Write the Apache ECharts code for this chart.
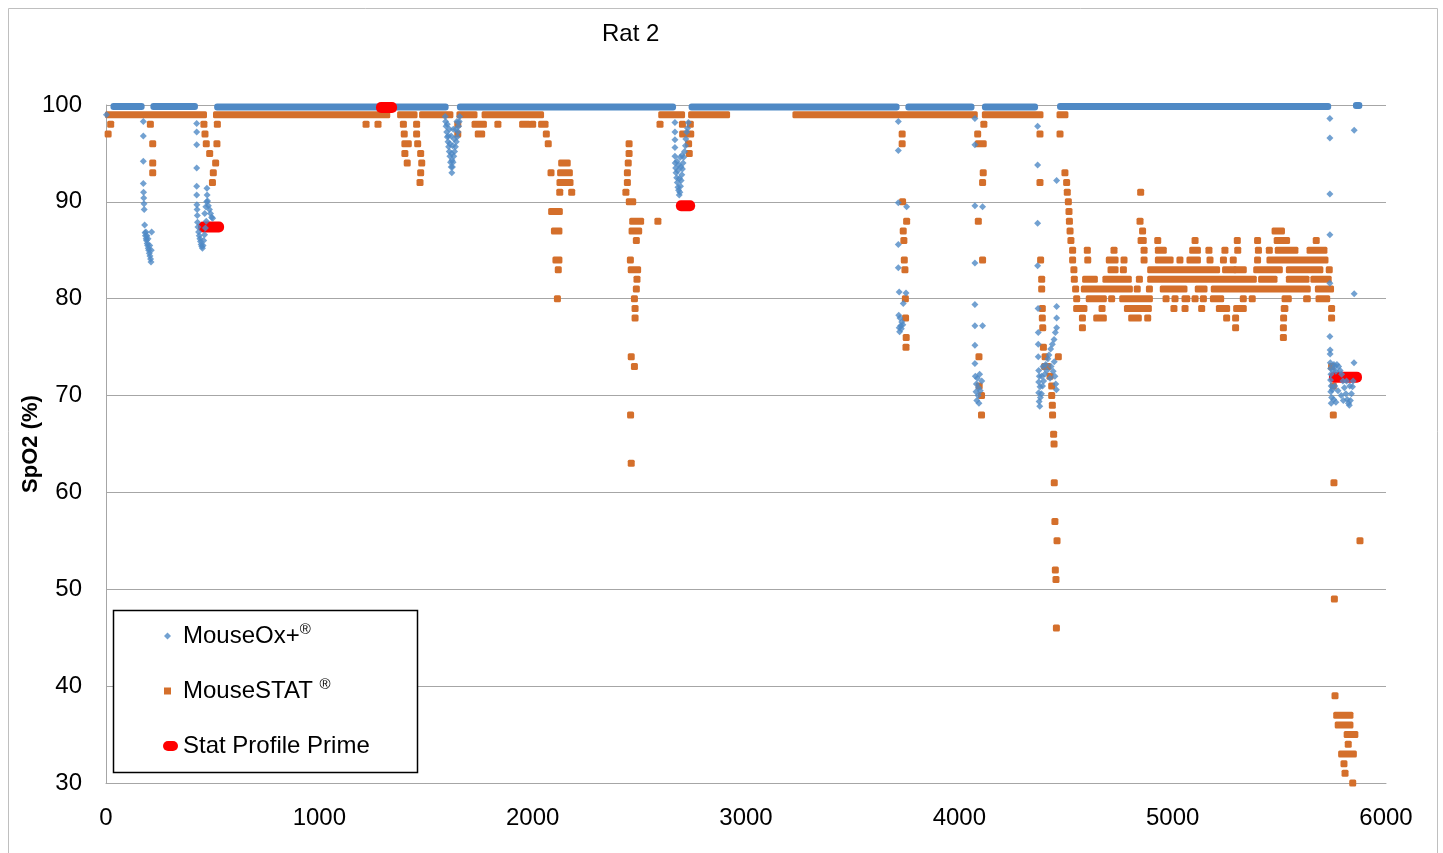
<!DOCTYPE html>
<html>
<head>
<meta charset="utf-8">
<script src="https://cdn.jsdelivr.net/npm/echarts@6/dist/echarts.min.js"></script>
<style>html,body{margin:0;padding:0;background:#fff}#c{width:1443px;height:853px}</style>
</head>
<body>
<div id="c"></div>
<script>
// ---------------- DATA ----------------
const chartTitle = 'Rat 2';
const yAxisTitle = 'SpO2 (%)';
const xRange = [0, 6000, 1000];   // min, max, step
const yRange = [30, 100, 10];

// MouseOx+ : continuous stretches near the top [xStart, xEnd, SpO2]
const blueRuns = [
  [35,167,99.85],[222,417,99.85],[521,1592,99.8],[1659,2658,99.8],[2745,3706,99.8],
  [3761,4057,99.8],[4120,4355,99.8],[4472,5729,99.85],[5859,5875,99.95]
];
// MouseOx+ : individual readings [x, SpO2]
const bluePoints = [
  [2,99.0],
  // dip ~200
  [175,98.3],[175,96.8],[175,94.2],[175,91.9],[176,91.0],[177,90.4],[178,89.8],[179,89.2],[181,87.6],[183,86.8],
  [185,86.5],[187,86.9],[188,86.2],[190,86.0],[192,86.5],[193,85.7],[195,85.5],[197,86.2],[198,85.2],[200,85.0],
  [203,84.7],[205,85.5],[206,84.4],[209,84.1],[211,83.8],[214,86.9],[212,85.0],
  // dip ~450
  [425,98.1],[425,97.2],[425,95.9],[425,93.5],[425,91.6],[425,90.7],[426,89.7],[427,89.2],[428,88.6],[429,87.9],
  [431,87.4],[434,86.9],[437,86.5],[440,86.2],[443,85.9],[446,85.6],[449,85.4],[452,85.2],[455,85.5],[458,86.0],
  [462,86.6],[466,87.3],[470,88.0],[473,91.4],[474,90.7],[476,90.1],[480,89.6],[485,89.2],[490,88.8],[495,88.4],
  [500,88.3],[468,89.5],[463,88.8],[472,90.0],
  // dip ~1620
  [1590,98.8],[1592,98.3],[1594,97.8],[1597,97.2],[1600,96.7],[1603,96.2],[1606,95.7],[1609,95.2],[1612,94.7],
  [1615,94.1],[1618,93.6],[1621,93.0],[1624,93.6],[1627,94.1],[1630,94.7],[1634,95.2],[1638,95.7],[1642,96.2],
  [1646,96.7],[1650,97.2],[1653,97.8],[1656,98.3],[1658,98.8],[1605,96.8],[1612,96.0],[1620,95.0],[1625,95.8],
  [1632,96.5],[1640,97.5],[1618,96.8],[1628,97.5],[1600,98.0],[1645,98.3],[1622,94.3],[1610,97.5],
  // dip ~2690
  [2667,98.2],[2667,97.2],[2667,96.4],[2667,95.6],[2667,94.7],[2668,94.0],[2670,93.5],[2672,93.0],[2675,92.5],
  [2678,92.0],[2681,91.5],[2684,91.2],[2687,90.7],[2690,91.0],[2693,91.6],[2696,92.2],[2699,92.8],[2702,93.4],
  [2705,94.0],[2708,94.6],[2712,95.2],[2716,95.8],[2718,96.5],[2722,97.2],[2726,97.6],[2730,98.2],[2680,93.2],
  [2688,92.4],[2695,93.6],[2700,94.8],[2676,94.2],[2685,93.8],[2692,94.6],
  // dip ~3730
  [3714,98.3],[3714,95.3],[3714,89.9],[3753,89.5],[3714,85.6],[3714,83.2],[3718,80.7],[3750,80.6],[3737,79.5],
  [3716,78.3],[3722,78.0],[3730,77.6],[3725,77.2],[3718,77.0],[3735,77.3],[3720,76.6],[3728,76.9],
  // dip ~4090
  [4073,98.6],[4073,95.9],[4073,89.6],[4109,89.5],[4073,83.7],[4073,79.4],[4073,77.2],[4109,77.2],[4073,75.2],
  [4073,73.3],[4075,72.0],[4085,71.8],[4095,72.2],[4080,71.2],[4090,70.8],[4078,70.4],[4088,70.0],[4082,69.5],
  [4092,69.2],[4098,70.5],[4105,71.5],
  // dip ~4400
  [4367,97.8],[4367,93.8],[4367,87.8],[4367,83.4],[4369,79.0],[4370,76.5],[4370,75.3],[4370,74.0],[4372,72.6],
  [4375,72.0],[4372,71.4],[4378,70.9],[4372,70.3],[4380,69.8],[4374,69.4],[4377,68.9],[4385,70.2],[4390,71.0],
  [4386,72.0],[4395,71.5],[4392,73.0],[4400,72.2],[4405,73.2],[4410,72.6],[4415,73.8],[4420,74.2],[4428,74.8],
  [4436,75.3],[4444,75.8],[4450,76.5],[4456,77.0],[4456,78.0],[4456,79.2],[4456,92.2],[4440,72.5],[4448,72.0],
  [4452,71.2],[4430,73.0],[4445,73.5],[4455,70.6],[4425,71.8],
  // dip ~5740
  [5737,98.6],[5737,96.6],[5737,90.8],[5737,86.6],[5737,81.6],[5737,76.1],[5738,74.7],[5738,74.3],[5739,73.4],
  [5740,72.8],[5742,72.2],[5740,71.6],[5743,71.0],[5741,70.4],[5745,69.8],[5743,69.2],[5748,70.6],[5752,72.6],
  [5756,73.2],[5760,73.0],[5765,72.5],[5770,73.2],[5778,73.0],[5785,72.6],[5792,72.2],[5798,71.5],[5805,70.8],
  [5812,70.2],[5818,69.6],[5824,69.2],[5828,69.0],[5833,69.5],[5838,70.2],[5843,70.9],[5846,71.5],[5850,73.4],
  [5851,80.5],[5851,97.4],[5760,71.0],[5775,70.5],[5790,70.0],[5800,69.5],[5815,71.5],[5830,71.0],[5755,69.6],[5765,69.3]
];

// MouseSTAT : readings, [xStart, xEnd, SpO2] (xStart == xEnd for a single reading)
const orangeTop = [
  [12,457,99],[518,1316,99],[1381,1444,99],[1484,1612,99],[1659,1725,99],[1777,2037,99],[2605,2698,99],
  [2745,2909,99],[3234,4070,99],[4122,4378,99],[4472,4495,99]
];
const orangeEarly = [
  [22,22,98],[10,10,97],
  [208,208,98],[219,219,96],[219,219,94],[219,219,93],
  [459,459,98],[522,522,98],[464,464,97],[470,470,96],[520,520,96],[486,486,95],[514,514,94],[503,503,93],[499,499,92],
  [1219,1219,98],[1275,1275,98],
  [1394,1394,98],[1398,1398,97],[1401,1417,96],[1401,1401,95],[1412,1412,94],
  [1456,1456,98],[1456,1456,97],[1461,1461,96],[1475,1475,95],[1480,1480,94],[1475,1475,93],[1472,1472,92],
  [1649,1649,98],[1649,1649,97],[1730,1769,98],[1745,1761,97],[1837,1837,98],[1953,1975,98],[2000,2000,98],
  [2042,2058,98],[2064,2064,97],[2073,2073,96],
  [2136,2162,94],[2086,2086,93],[2131,2172,93],[2128,2175,92],[2127,2127,91],[2183,2183,91],[2089,2125,89],
  [2102,2123,87],[2109,2123,84],[2120,2120,83],[2116,2116,80]
];
const orangeMid = [
  [2452,2452,96],[2452,2452,95],[2448,2448,94],[2444,2444,93],[2444,2444,92],[2437,2437,91],[2453,2469,90],
  [2469,2506,88],[2587,2587,88],[2466,2497,87],[2486,2486,86],[2458,2458,84],[2462,2492,83],[2489,2489,82],
  [2486,2486,81],[2477,2477,80],[2480,2480,79],[2480,2480,78],[2462,2462,74],[2477,2477,73],[2459,2459,68],[2462,2462,63],
  [2597,2597,98],[2702,2702,98],[2739,2739,98],[2703,2741,97],[2731,2731,96],[2734,2734,95],
  [3732,3732,97],[3732,3732,96],[3734,3734,90],[3753,3753,88],[3737,3737,87],[3740,3740,86],[3742,3742,84],
  [3745,3745,83],[3747,3747,80],[3748,3748,78],[3751,3751,76],[3750,3750,75],
  [4115,4115,98],[4086,4086,97],[4089,4112,96],[4112,4112,93],[4109,4109,92],[4089,4089,88],[4109,4109,84],
  [4092,4092,74],[4093,4093,71],[4104,4104,70],[4104,4104,68]
];
const orangeLate = [
  [4378,4378,97],[4378,4378,92],[4381,4381,84],[4386,4386,82],[4386,4386,81],[4389,4389,79],[4389,4389,78],
  [4391,4391,77],[4394,4394,75],[4402,4402,74],[4464,4464,74],[4400,4415,73],[4425,4425,72],[4433,4433,71],
  [4433,4433,70],[4436,4436,69],[4437,4437,68],[4442,4442,66],[4444,4444,65],[4445,4445,61],[4448,4448,57],
  [4458,4458,55],[4450,4450,52],[4453,4453,51],[4455,4455,46],
  [4472,4472,97],[4495,4495,93],[4503,4503,92],[4506,4506,91],[4511,4511,90],[4514,4514,89],[4516,4516,88],
  [4519,4519,87],[4523,4523,86],[4531,4531,85],[4531,4531,84],[4537,4537,83],[4539,4539,82],[4545,4545,81]
];
const orangeCloud = [
  [4850,4850,91],[4847,4847,88],[4859,4859,87],[5480,5510,87],
  [4852,4862,86],[4930,4930,86],[5105,5105,86],[5303,5303,86],[5398,5398,86],[5490,5534,86],[5673,5673,86],
  [4600,4600,85],[4725,4725,85],[4866,4866,85],[4933,4956,85],[5094,5116,85],[5170,5170,85],[5245,5245,85],
  [5305,5305,85],[5402,5402,85],[5453,5453,85],[5495,5573,85],[5644,5709,85],
  [4602,4602,84],[4703,4730,84],[4772,4772,84],[4866,4866,84],[4933,4988,84],[5034,5034,84],[5081,5116,84],
  [5175,5175,84],[5238,5238,84],[5284,5284,84],[5398,5398,84],[5456,5714,84],
  [4711,4730,83],[4769,4769,83],[4897,5206,83],[5248,5284,83],[5300,5331,83],[5394,5500,83],[5547,5690,83],[5734,5734,83],
  [4592,4633,82],[4687,4792,82],[4844,4844,82],[4897,5378,82],[5417,5475,82],[5547,5625,82],[5662,5729,82],
  [4586,4797,81],[4834,4834,81],[4891,4891,81],[4956,5053,81],[5120,5147,81],[5195,5631,81],[5683,5740,81],
  [4550,4550,80],[4609,4675,80],[4714,4714,80],[4766,4891,80],[4969,4969,80],[5011,5011,80],[5058,5066,80],
  [5105,5105,80],[5144,5144,80],[5191,5225,80],[5331,5331,80],[5373,5373,80],[5527,5542,80],[5628,5631,80],[5686,5722,80],
  [4550,4584,79],[4669,4669,79],[4788,4886,79],[5006,5006,79],[5058,5058,79],[5136,5136,79],[5219,5253,79],
  [5300,5331,79],[5523,5526,79],[5745,5745,79],
  [4577,4577,78],[4644,4675,78],[4808,4839,78],[4883,4883,78],[5253,5253,78],[5295,5295,78],[5520,5520,78],[5745,5745,78],
  [4577,4577,77],[5295,5295,77],[5519,5519,77],[5519,5519,76]
];
const orangeEnd = [
  [5745,5745,73],[5753,5753,71],[5753,5753,68],[5756,5756,61],[5878,5878,55],[5758,5758,49],[5761,5761,39],
  [5769,5831,37],[5776,5831,36],[5818,5854,35],[5823,5823,34],[5792,5847,33],[5803,5803,32],[5808,5808,31],[5844,5844,30]
];

// Stat Profile Prime : [xStart, xEnd, SpO2]
const statProfile = [[455,530,87.4],[1289,1341,99.75],[2695,2738,89.6],[5756,5864,71.9]];

const names = ['MouseOx+®', 'MouseSTAT ®', 'Stat Profile Prime'];
const colors = { blue: '#4f89c5', orange: '#d46f2b', red: '#ff0000' };

// ---------------- CHART ----------------
const FONT = "'Liberation Sans', Arial, sans-serif";

function barRenderer(halfW, h, r) {
  return function (params, api) {
    const y = api.value(2);
    const p0 = api.coord([api.value(0), y]);
    const p1 = api.coord([api.value(1), y]);
    return {
      type: 'rect',
      shape: { x: p0[0] - halfW, y: p0[1] - h / 2, width: p1[0] - p0[0] + 2 * halfW, height: h, r: r },
      style: { fill: api.visual('color') }
    };
  };
}

const orangeAll = [].concat(orangeTop, orangeEarly, orangeMid, orangeLate, orangeCloud, orangeEnd);

function legendText(padLeft) {
  return {
    fontSize: 24, fontFamily: FONT, color: '#000',
    rich: {
      a: { fontSize: 24, fontFamily: FONT, color: '#000', lineHeight: 28, padding: [0, 0, 0, padLeft] },
      s: { fontSize: 15, fontFamily: FONT, color: '#000', lineHeight: 15, verticalAlign: 'top' }
    }
  };
}

const option = {
  animation: false,
  backgroundColor: '#fff',
  title: {
    text: chartTitle, left: 602, top: 22, padding: 0,
    textStyle: { fontSize: 24, fontWeight: 'normal', fontFamily: FONT, color: '#000' }
  },
  grid: { left: 106, right: 57, top: 105, bottom: 70 },
  xAxis: {
    type: 'value', min: xRange[0], max: xRange[1], interval: xRange[2],
    axisLine: { show: true, lineStyle: { color: '#a6a6a6', width: 1 } },
    axisTick: { show: false },
    splitLine: { show: false },
    axisLabel: { fontSize: 24, fontFamily: FONT, color: '#000', margin: 23, formatter: v => String(v) }
  },
  yAxis: {
    type: 'value', min: yRange[0], max: yRange[1], interval: yRange[2],
    name: yAxisTitle, nameLocation: 'middle', nameGap: 64, nameRotate: 90, nameMoveOverlap: false,
    nameTextStyle: { fontSize: 22, fontWeight: 'bold', fontFamily: FONT, color: '#000' },
    axisLine: { show: true, lineStyle: { color: '#a6a6a6', width: 1 } },
    axisTick: { show: false },
    splitLine: { show: true, lineStyle: { color: '#a6a6a6', width: 1 } },
    axisLabel: { fontSize: 24, fontFamily: FONT, color: '#000', margin: 24, formatter: v => String(v) }
  },
  legend: [
    { data: [{ name: names[0], icon: 'diamond' }], left: 164, top: 622, padding: 0, z: 20,
      itemWidth: 7, itemHeight: 7, formatter: () => '{a|MouseOx+}{s|®}', textStyle: legendText(7), selectedMode: false },
    { data: [{ name: names[1], icon: 'rect' }], left: 164, top: 677, padding: 0, z: 20,
      itemWidth: 7, itemHeight: 7, formatter: () => '{a|MouseSTAT }{s|®}', textStyle: legendText(7), selectedMode: false },
    { data: [{ name: names[2], icon: 'path://M5 0H10A5 5 0 0 1 10 10H5A5 5 0 0 1 5 0Z' }], left: 163, top: 732, padding: 0, z: 20,
      itemWidth: 15, itemHeight: 10, textStyle: { fontSize: 24, fontFamily: FONT, color: '#000', lineHeight: 28 }, selectedMode: false }
  ],
  graphic: {
    elements: [
      { type: 'rect', silent: true, z: 0, shape: { x: 8.5, y: 8.5, width: 1429, height: 860 },
        style: { fill: 'none', stroke: '#bfbfbf', lineWidth: 1 } },
      { type: 'rect', silent: true, z: 5, shape: { x: 113.5, y: 610.5, width: 304, height: 162 },
        style: { fill: '#fff', stroke: '#000', lineWidth: 1.5 } }
    ]
  },
  series: [
    { type: 'custom', name: 'MouseOx+ band', itemStyle: { color: colors.blue },
      renderItem: barRenderer(3, 7, 3), encode: { x: [0, 1], y: 2 }, data: blueRuns },
    { type: 'scatter', name: names[0], symbol: 'diamond', symbolSize: 7,
      itemStyle: { color: colors.blue }, data: bluePoints },
    { type: 'custom', name: names[1], itemStyle: { color: colors.orange },
      renderItem: barRenderer(3.5, 7, 1.5), encode: { x: [0, 1], y: 2 }, data: orangeAll },
    { type: 'custom', name: names[2], itemStyle: { color: colors.red },
      renderItem: barRenderer(5, 11, 5), encode: { x: [0, 1], y: 2 }, data: statProfile }
  ]
};

const chart = echarts.init(document.getElementById('c'), null, { renderer: 'canvas' });
chart.setOption(option);
</script>
</body>
</html>
